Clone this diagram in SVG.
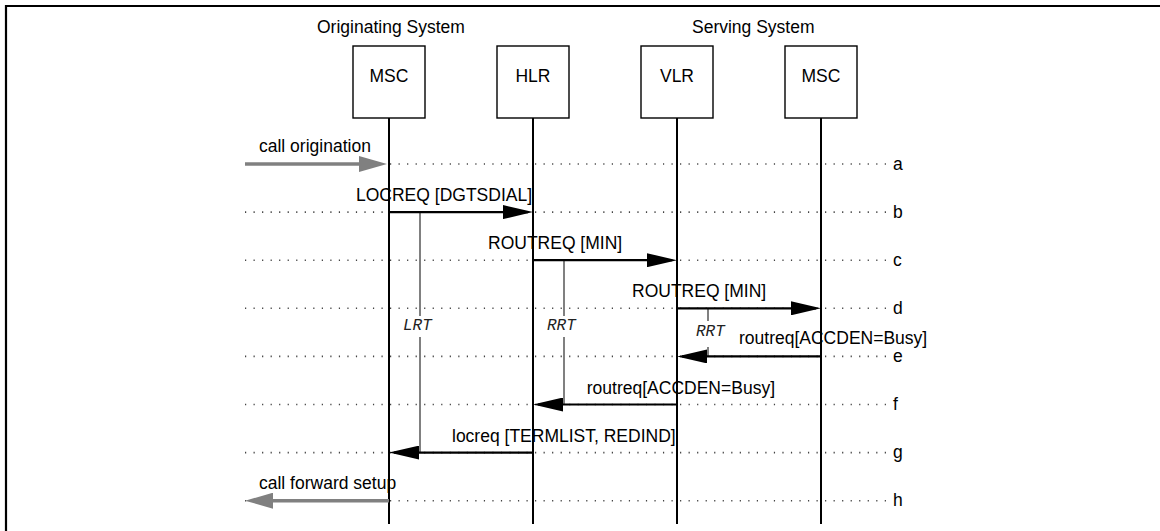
<svg xmlns="http://www.w3.org/2000/svg" width="1160" height="531" viewBox="0 0 1160 531">
<style>
text { font-family: "Liberation Sans", Arial, sans-serif; font-size: 17.5px; fill: #000; }
.title { font-size: 17.5px; }
.timer { font-family: "Liberation Mono", "Courier New", monospace; font-style: italic; font-size: 16px; fill: #222; }
.box { fill: #fff; stroke: #000; stroke-width: 1.4; }
.life { stroke: #000; stroke-width: 2; }
.dots { stroke: #444; stroke-width: 1.6; stroke-dasharray: 1.2 7.33; fill: none; }
.msg { stroke: #000; stroke-width: 2.2; fill: none; marker-end: url(#ah); }
.ext { stroke: #808080; stroke-width: 3.5; fill: none; marker-end: url(#ahg); }
.tmr { stroke: #808080; stroke-width: 2; }
.frame { stroke: #000; stroke-width: 2.2; fill: none; }
</style>
<defs>
<marker id="ah" markerUnits="userSpaceOnUse" markerWidth="30" markerHeight="14" refX="25" refY="7" orient="auto">
<path d="M0,0 L30,7 L0,14 z" fill="#000"/>
</marker>
<marker id="ahg" markerUnits="userSpaceOnUse" markerWidth="28" markerHeight="16" refX="20" refY="8" orient="auto">
<path d="M0,0 L28,8 L0,16 z" fill="#808080"/>
</marker>
</defs>
<rect width="1160" height="531" fill="#fff"/>
<path class="frame" d="M6,531 L6,6 L1160,6"/>

<text class="title" x="317" y="33">Originating System</text>
<text class="title" x="692" y="33">Serving System</text>

<g id="rows">
<line class="dots" x1="245" y1="164" x2="886" y2="164"/>
<line class="dots" x1="245" y1="212.1" x2="886" y2="212.1"/>
<line class="dots" x1="245" y1="260.2" x2="886" y2="260.2"/>
<line class="dots" x1="245" y1="308.3" x2="886" y2="308.3"/>
<line class="dots" x1="245" y1="356.4" x2="886" y2="356.4"/>
<line class="dots" x1="245" y1="404.5" x2="886" y2="404.5"/>
<line class="dots" x1="245" y1="452.6" x2="886" y2="452.6"/>
<line class="dots" x1="245" y1="500.7" x2="886" y2="500.7"/>
<text x="893" y="169.5">a</text>
<text x="893" y="217.6">b</text>
<text x="893" y="265.7">c</text>
<text x="893" y="313.8">d</text>
<text x="893" y="362.4">e</text>
<text x="893" y="410">f</text>
<text x="893" y="458.1">g</text>
<text x="893" y="506.2">h</text>
</g>

<g id="msc-orig">
<line class="life" x1="389" y1="118" x2="389" y2="524"/>
<rect class="box" x="353" y="46" width="72" height="72"/>
<text x="389" y="82" text-anchor="middle">MSC</text>
</g>
<g id="hlr">
<line class="life" x1="533" y1="118" x2="533" y2="524"/>
<rect class="box" x="497" y="46" width="72" height="72"/>
<text x="533" y="82" text-anchor="middle">HLR</text>
</g>
<g id="vlr">
<line class="life" x1="677" y1="118" x2="677" y2="524"/>
<rect class="box" x="641" y="46" width="72" height="72"/>
<text x="677" y="82" text-anchor="middle">VLR</text>
</g>
<g id="msc-serv">
<line class="life" x1="821" y1="118" x2="821" y2="524"/>
<rect class="box" x="785" y="46" width="72" height="72"/>
<text x="821" y="82" text-anchor="middle">MSC</text>
</g>

<g id="timers">
<line class="tmr" x1="420" y1="212.1" x2="420" y2="316"/>
<line class="tmr" x1="420" y1="337" x2="420" y2="452.6"/>
<text class="timer" x="403" y="330">LRT</text>
<line class="tmr" x1="564" y1="260.2" x2="564" y2="316"/>
<line class="tmr" x1="564" y1="337" x2="564" y2="404.5"/>
<text class="timer" x="547" y="330">RRT</text>
<line class="tmr" x1="708" y1="308.3" x2="708" y2="321"/>
<line class="tmr" x1="708" y1="347" x2="708" y2="356.4"/>
<text class="timer" x="696" y="336">RRT</text>
</g>

<g id="connectors">
<line class="ext" x1="245" y1="164" x2="379" y2="164"/>
<text x="259" y="152">call origination</text>
<line class="msg" x1="389" y1="212.1" x2="528" y2="212.1"/>
<text x="356" y="201">LOCREQ [DGTSDIAL]</text>
<line class="msg" x1="533" y1="260.2" x2="672" y2="260.2"/>
<text x="488" y="249">ROUTREQ [MIN]</text>
<line class="msg" x1="677" y1="308.3" x2="816" y2="308.3"/>
<text x="632" y="297">ROUTREQ [MIN]</text>
<line class="msg" x1="821" y1="356.4" x2="682" y2="356.4"/>
<text x="739" y="344">routreq[ACCDEN=Busy]</text>
<line class="msg" x1="677" y1="404.5" x2="538" y2="404.5"/>
<text x="775" y="393.5" text-anchor="end">routreq[ACCDEN=Busy]</text>
<line class="msg" x1="533" y1="452.6" x2="394" y2="452.6"/>
<text x="452" y="441.5">locreq [TERMLIST, REDIND]</text>
<line class="ext" x1="389" y1="500.7" x2="253" y2="500.7"/>
<text x="259" y="489">call forward setup</text>
</g>
</svg>
